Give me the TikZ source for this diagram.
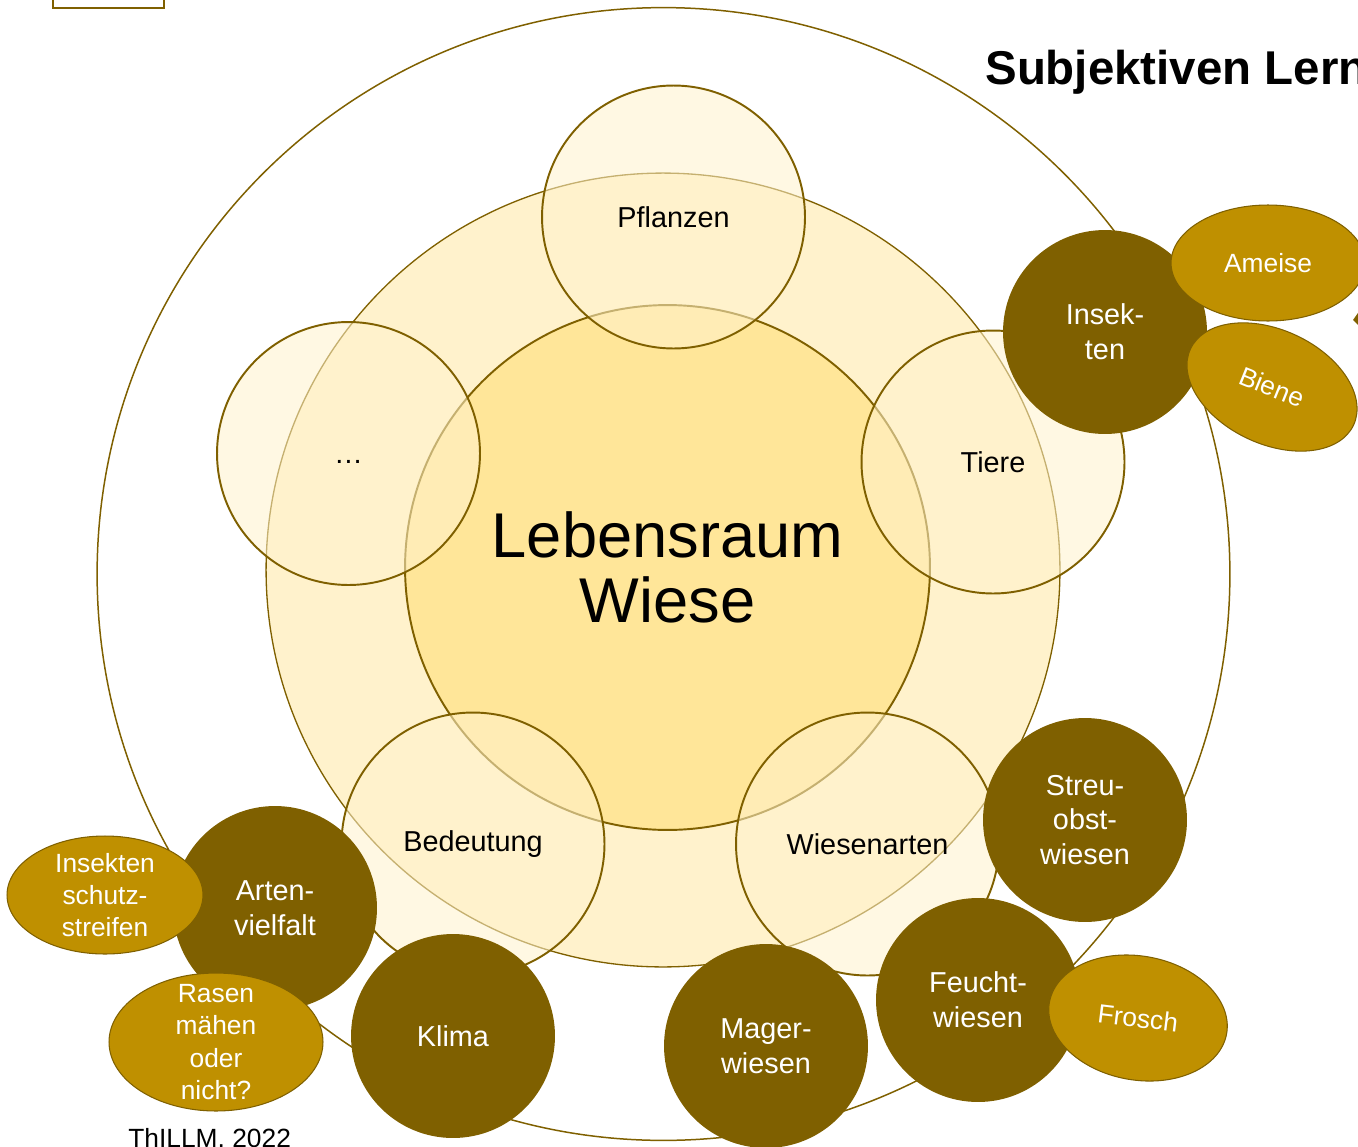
\documentclass[tikz,border=0pt]{standalone}
\usepackage{fontspec}
\setmainfont{Liberation Sans}
\usepackage{tikz}
\usetikzlibrary{shapes.geometric}
\definecolor{darkgold}{RGB}{127, 96, 0}
\definecolor{gold}{RGB}{191, 144, 0}
\definecolor{lightgold}{RGB}{255, 230, 153}
\definecolor{palegold}{RGB}{255, 242, 204}

\tikzset{
  ring/.style={circle, draw=darkgold, line width=0.85pt, inner sep=0pt},
  topic/.style={circle, draw=darkgold, line width=1.1pt, fill=palegold, fill opacity=0.55, text opacity=1, minimum size=5.26cm, inner sep=0pt, font=\fontsize{16.4}{19.8}\selectfont},
  subtopic/.style={circle, fill=darkgold, text=white, minimum size=4.08cm, inner sep=0pt, align=center, font=\fontsize{16.4}{19.8}\selectfont},
  detail/.style={ellipse, fill=gold, draw=darkgold, line width=0.6pt, inner sep=0pt},
  detailtext/.style={text=white, align=center, inner sep=0pt, font=\fontsize{15}{18.4}\selectfont}
}

\begin{document}
\begin{tikzpicture}[x=0.02cm, y=-0.02cm]
  \useasboundingbox (0,0) rectangle (1358,1146);
  \clip (0,0) rectangle (1358,1146);

  % Rings
  \node[ring, minimum size=22.66cm] (outer) at (663.5,574) {};
  \node[ring, fill=palegold, line width=0.75pt, minimum size=15.88cm] (middle) at (663,570) {};
  \node[ring, fill=lightgold, line width=1.1pt, minimum size=10.5cm, align=center, font=\fontsize{36}{37}\selectfont] (core) at (667.5,567.5) {Lebensraum\\Wiese};

  % Topics
  \node[topic] (pflanzen) at (673.5,217) {Pflanzen};
  \node[topic] (tiere) at (993,462) {Tiere};
  \node[topic] (more) at (348.5,453.5) {\vphantom{X}…};
  \node[topic] (bedeutung) at (473,844) {Bedeutung};
  \node[topic] (wiesenarten) at (867.5,844) {Wiesenarten};

  % Subtopics
  \node[subtopic] (insekten) at (1105,332) {Insek-\\ten};
  \node[subtopic] (streuobst) at (1085,820) {Streu-\\obst-\\wiesen};
  \node[subtopic] (feucht) at (978,1000) {Feucht-\\wiesen};
  \node[subtopic] (mager) at (766,1046) {Mager-\\wiesen};
  \node[subtopic] (klima) at (453,1036) {Klima};
  \node[subtopic] (arten) at (275,908) {Arten-\\vielfalt};

  % Details
  \node[detail, minimum width=3.88cm, minimum height=2.32cm] (ameise) at (1268,263) {};
  \node[detailtext] (ameise-t) at (ameise) {Ameise};
  \node[detail, rotate=-25, minimum width=3.6cm, minimum height=2.28cm] (biene) at (1272,387) {};
  \node[detailtext, rotate=-22] (biene-t) at (biene) {Biene};
  \node[detail, rotate=-10, minimum width=3.6cm, minimum height=2.48cm] (frosch) at (1138,1018) {};
  \node[detailtext, rotate=-7] (frosch-t) at (frosch) {Frosch};
  \node[detail, minimum width=3.92cm, minimum height=2.36cm] (schutz) at (105,895) {};
  \node[detailtext] (schutz-t) at (schutz) {Insekten\\schutz-\\streifen};
  \node[detail, minimum width=4.28cm, minimum height=2.76cm] (rasen) at (216,1042) {};
  \node[detailtext] (rasen-t) at (rasen) {Rasen\\mähen\\oder\\nicht?};

  % Slide remains
  \draw[darkgold, line width=1.7pt] (53,-20) rectangle (164,8);
  \fill[darkgold] (1353,320) -- (1360,310) -- (1360,327) -- cycle;
  \node[anchor=base west, inner sep=0pt, font=\fontsize{27}{32}\selectfont\bfseries] (title) at (985,84) {Subjektiven Lern};
  \node[anchor=base west, inner sep=0pt, font=\fontsize{15}{18}\selectfont] (credit) at (128,1147) {ThILLM, 2022};
\end{tikzpicture}
\end{document}
